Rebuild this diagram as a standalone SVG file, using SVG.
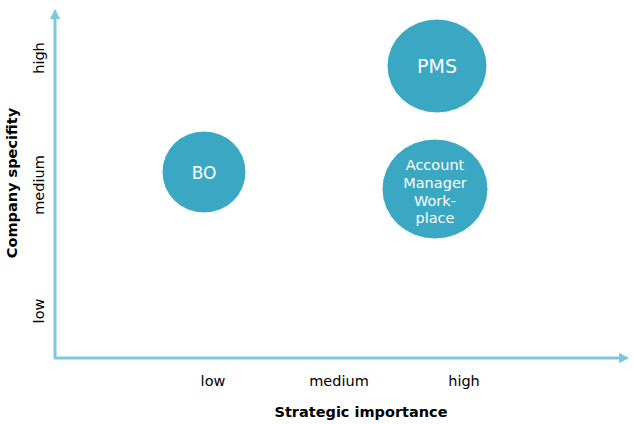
<svg xmlns="http://www.w3.org/2000/svg" width="633" height="424" viewBox="0 0 633 424">
<style>
.ax{stroke:#7ec8dc;stroke-width:3;fill:none}
.node{fill:#3aa8c2;stroke:#ffffff;stroke-width:1}
.nt{fill:#ffffff;font-family:"DejaVu Sans",Verdana,sans-serif;text-anchor:middle}
.lb{fill:#000000;font-family:"DejaVu Sans",Verdana,sans-serif;font-size:14.5px;text-anchor:middle}
.tt{fill:#000000;font-family:"DejaVu Sans",Verdana,sans-serif;font-size:14.5px;font-weight:bold;text-anchor:middle}
</style>
<defs>
<marker id="ah" viewBox="0 0 10 10" refX="5" refY="5" markerWidth="3.5" markerHeight="3.5" orient="auto">
<path d="M0,0 L10,5 L0,10 z" fill="#7ec8dc"/>
</marker>
</defs>
<g id="connectors">
<path class="ax" d="M55,358 L55,14" marker-end="url(#ah)"/>
<path class="ax" d="M54,358 L624,358" marker-end="url(#ah)"/>
</g>
<g id="node-bo">
<ellipse class="node" cx="204" cy="172" rx="42" ry="41"/>
<text class="nt" x="204" y="179" font-size="17">BO</text>
</g>
<g id="node-pms">
<ellipse class="node" cx="437" cy="66" rx="50" ry="47"/>
<text class="nt" x="437" y="73" font-size="19">PMS</text>
</g>
<g id="node-amw">
<ellipse class="node" cx="435" cy="189" rx="53" ry="50"/>
<text class="nt" font-size="14.5"><tspan x="435" y="170">Account</tspan><tspan x="435" y="188">Manager</tspan><tspan x="435" y="206">Work-</tspan><tspan x="435" y="223">place</tspan></text>
</g>
<g id="labels">
<text class="lb" transform="translate(44,58) rotate(-90)">high</text>
<text class="lb" transform="translate(44,185) rotate(-90)">medium</text>
<text class="lb" transform="translate(44,311) rotate(-90)">low</text>
<text class="tt" transform="translate(17,183) rotate(-90)">Company specifity</text>
<text class="lb" x="213" y="386">low</text>
<text class="lb" x="339" y="386">medium</text>
<text class="lb" x="464" y="386">high</text>
<text class="tt" x="361" y="417">Strategic importance</text>
</g>
</svg>
